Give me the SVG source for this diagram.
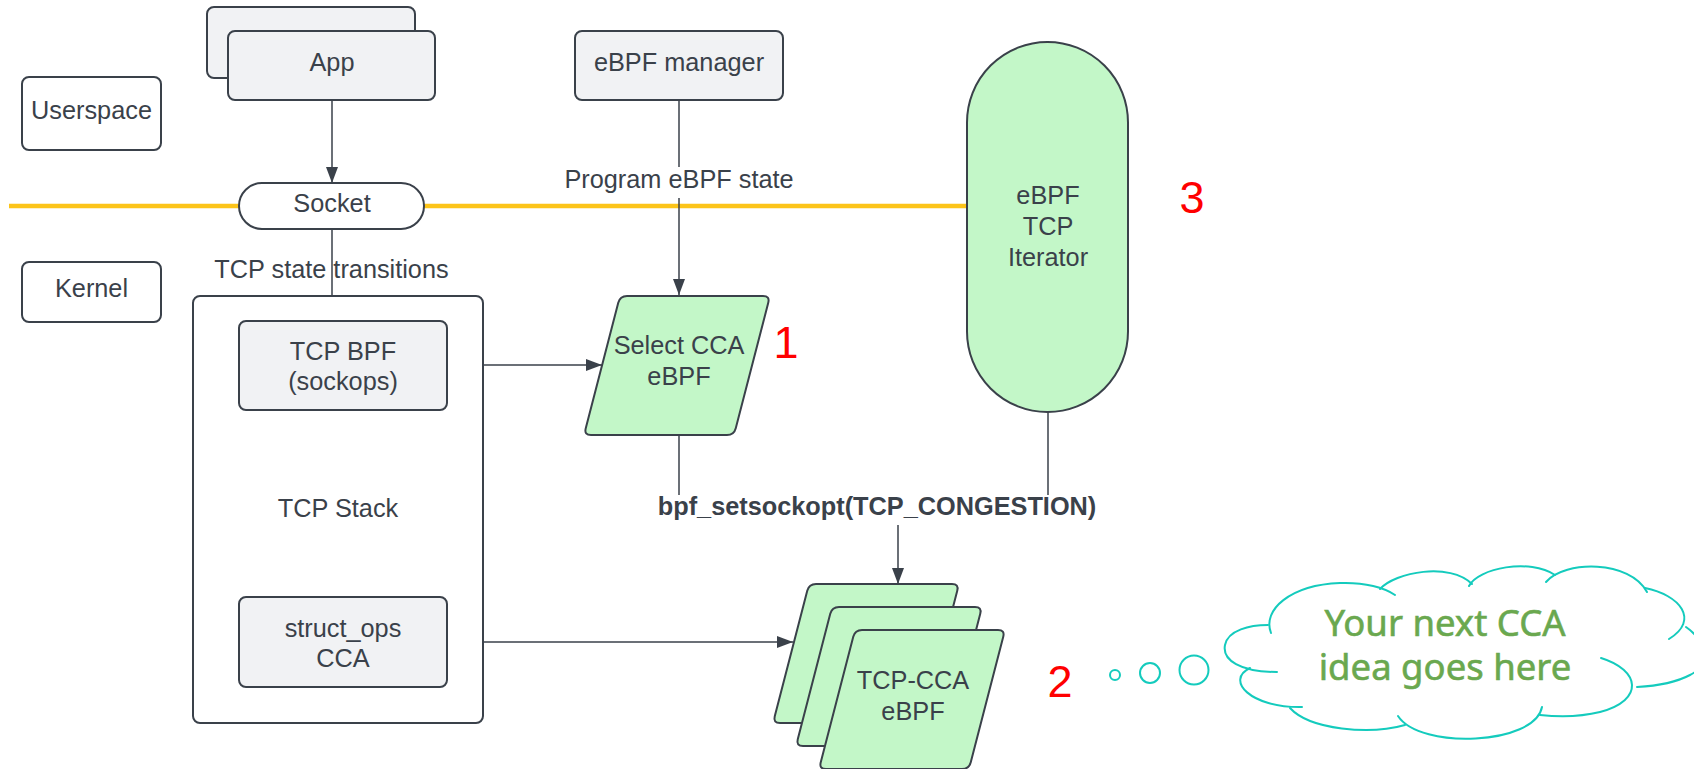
<svg xmlns="http://www.w3.org/2000/svg" width="1694" height="769" viewBox="0 0 1694 769">
<style>
  .box { fill: #f1f2f4; stroke: #3a414a; stroke-width: 2; }
  .plain { fill: #ffffff; stroke: #3a414a; stroke-width: 2; }
  .green { fill: #c3f7c8; stroke: #3a414a; stroke-width: 2; }
  .t { font-family: "Liberation Sans", Arial, sans-serif; font-size: 25.3px; fill: #3a414a; text-anchor: middle; }
  .b { font-weight: bold; }
  .num { font-family: "Liberation Sans", Arial, sans-serif; font-size: 45px; fill: #ff0000; text-anchor: middle; }
  .conn { stroke: #3a414a; stroke-width: 1.5; fill: none; }
  .cloud { stroke: #14cbbd; stroke-width: 2; fill: none; stroke-linecap: round; }
  .idea { font-family: "Noto Sans", "Open Sans", sans-serif; font-size: 36.5px; fill: #6aa84f; stroke: #6aa84f; stroke-width: 0.6; text-anchor: middle; }
</style>
<defs>
  <marker id="arr" viewBox="0 0 16 12" refX="16" refY="6" markerWidth="16" markerHeight="12" markerUnits="userSpaceOnUse" orient="auto">
    <path d="M0,0 L16,6 L0,12 Z" fill="#3a414a"/>
  </marker>
  <path id="para" d="M43,0 L179,0 Q186,0 184.25,6.78 L151.75,132.22 Q150,139 143,139 L7,139 Q0,139 1.75,132.22 L34.25,6.78 Q36,0 43,0 Z"/>
</defs>

<!-- boundary line -->
<g id="boundary">
  <line x1="9" y1="206" x2="967" y2="206" stroke="#fcc419" stroke-width="4.5"/>
</g>

<!-- connectors -->
<g id="connectors">
  <line class="conn" x1="332" y1="100" x2="332" y2="183" marker-end="url(#arr)"/>
  <line class="conn" x1="332" y1="229" x2="332" y2="320" marker-end="url(#arr)"/>
  <line class="conn" x1="679" y1="100" x2="679" y2="167"/>
  <line class="conn" x1="679" y1="198" x2="679" y2="295" marker-end="url(#arr)"/>
  <line class="conn" x1="447" y1="365" x2="602" y2="365" marker-end="url(#arr)"/>
  <line class="conn" x1="447" y1="642" x2="793" y2="642" marker-end="url(#arr)"/>
  <line class="conn" x1="679" y1="435" x2="679" y2="495"/>
  <line class="conn" x1="1048" y1="412" x2="1048" y2="495"/>
  <line class="conn" x1="898" y1="525" x2="898" y2="584" marker-end="url(#arr)"/>
  <text class="t" x="679" y="188">Program eBPF state</text>
  <text class="t" x="331.5" y="278">TCP state transitions</text>
  <text class="t b" x="877" y="515">bpf_setsockopt(TCP_CONGESTION)</text>
</g>

<g id="userspace">
  <rect class="plain" x="22" y="77" width="139" height="73" rx="7"/>
  <text class="t" x="91.5" y="119">Userspace</text>
</g>
<g id="kernel">
  <rect class="plain" x="22" y="262" width="139" height="60" rx="7"/>
  <text class="t" x="91.5" y="297">Kernel</text>
</g>

<g id="app">
  <rect class="box" x="207" y="7" width="208" height="71" rx="7"/>
  <rect class="box" x="228" y="31" width="207" height="69" rx="7"/>
  <text class="t" x="332" y="71">App</text>
</g>

<g id="ebpf-manager">
  <rect class="box" x="575" y="31" width="208" height="69" rx="7"/>
  <text class="t" x="679" y="71">eBPF manager</text>
</g>

<g id="socket">
  <rect class="plain" x="239" y="183" width="185" height="46" rx="23"/>
  <text class="t" x="332" y="212">Socket</text>
</g>

<g id="tcp-stack">
  <rect class="plain" x="193" y="296" width="290" height="427" rx="7"/>
  <text class="t" x="338" y="517">TCP Stack</text>
</g>

<g id="tcp-bpf">
  <rect class="box" x="239" y="321" width="208" height="89" rx="7"/>
  <text class="t" x="343" y="360">TCP BPF</text>
  <text class="t" x="343" y="390">(sockops)</text>
</g>

<g id="struct-ops">
  <rect class="box" x="239" y="597" width="208" height="90" rx="7"/>
  <text class="t" x="343" y="637">struct_ops</text>
  <text class="t" x="343" y="667">CCA</text>
</g>

<g id="select-cca">
  <use href="#para" class="green" x="584" y="296"/>
  <text class="t" x="679" y="354">Select CCA</text>
  <text class="t" x="679" y="385">eBPF</text>
  <text class="num" x="786" y="358">1</text>
</g>

<g id="iterator">
  <rect class="green" x="967" y="42" width="161" height="370" rx="80.5"/>
  <text class="t" x="1048" y="204">eBPF</text>
  <text class="t" x="1048" y="235">TCP</text>
  <text class="t" x="1048" y="266">Iterator</text>
  <text class="num" x="1192" y="213">3</text>
</g>

<g id="tcp-cca">
  <use href="#para" class="green" x="773" y="584"/>
  <use href="#para" class="green" x="796" y="607"/>
  <use href="#para" class="green" x="819" y="630"/>
  <text class="t" x="913" y="689">TCP-CCA</text>
  <text class="t" x="913" y="720">eBPF</text>
  <text class="num" x="1060" y="697">2</text>
</g>

<g id="idea-cloud">
  <circle class="cloud" cx="1115" cy="675" r="5"/>
  <circle class="cloud" cx="1150" cy="673" r="10"/>
  <circle class="cloud" cx="1194" cy="670" r="14.5"/>
  <path class="cloud" d="M1277,672 C1240,672 1222,660 1225,645 C1228,630 1250,625 1268,625"/>
  <path class="cloud" d="M1271,633 C1262,610 1290,585 1340,583 C1365,582 1385,588 1395,595"/>
  <path class="cloud" d="M1380,589 C1395,572 1450,562 1472,584"/>
  <path class="cloud" d="M1469,586 C1478,568 1530,558 1555,575"/>
  <path class="cloud" d="M1546,582 C1565,560 1630,560 1647,592"/>
  <path class="cloud" d="M1645,588 C1680,595 1700,620 1669,639"/>
  <path class="cloud" d="M1686,627 C1705,640 1710,665 1690,675 C1675,683 1655,686 1637,687"/>
  <path class="cloud" d="M1601,658 C1640,670 1645,700 1600,712 C1580,717 1560,717 1540,715"/>
  <path class="cloud" d="M1542,707 C1535,745 1420,750 1398,716"/>
  <path class="cloud" d="M1405,725 C1370,735 1310,730 1290,708"/>
  <path class="cloud" d="M1302,707 C1250,708 1225,680 1250,668"/>
  <text class="idea"><tspan x="1445" y="636">Your next CCA</tspan><tspan x="1445" y="680">idea goes here</tspan></text>
</g>
</svg>
